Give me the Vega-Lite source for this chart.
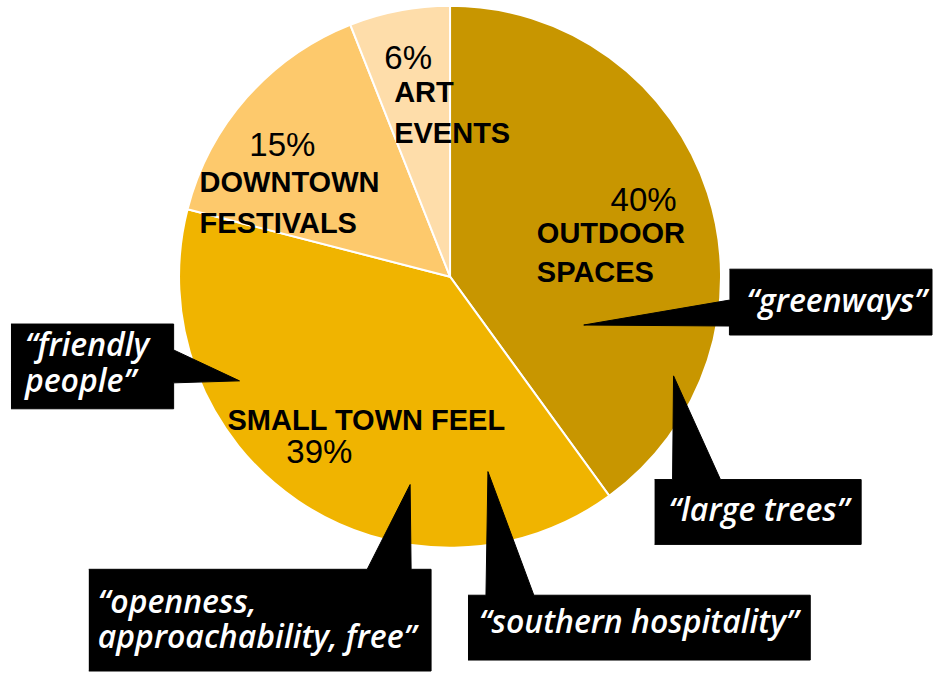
{
  "$schema": "https://vega.github.io/schema/vega-lite/v6.json",
  "width": 934,
  "height": 673,
  "autosize": {"type": "fit", "contains": "padding"},
  "padding": 0,
  "background": "white",
  "config": {"view": {"stroke": null}},
  "datasets": {
    "shares": [
      {"category": "Outdoor Spaces", "share": 40, "rank": 1},
      {"category": "Small Town Feel", "share": 39, "rank": 2},
      {"category": "Downtown Festivals", "share": 15, "rank": 3},
      {"category": "Art Events", "share": 6, "rank": 4}
    ],
    "callouts": [
      {"id": "greenways", "seq": 1, "px": 731, "py": 270},
      {"id": "greenways", "seq": 2, "px": 934, "py": 270},
      {"id": "greenways", "seq": 3, "px": 934, "py": 336},
      {"id": "greenways", "seq": 4, "px": 731, "py": 336},
      {"id": "greenways", "seq": 5, "px": 731, "py": 327},
      {"id": "greenways", "seq": 6, "px": 585, "py": 326},
      {"id": "greenways", "seq": 7, "px": 731, "py": 301},
      {"id": "trees", "seq": 1, "px": 656, "py": 481},
      {"id": "trees", "seq": 2, "px": 674, "py": 481},
      {"id": "trees", "seq": 3, "px": 675, "py": 377},
      {"id": "trees", "seq": 4, "px": 722, "py": 481},
      {"id": "trees", "seq": 5, "px": 863, "py": 481},
      {"id": "trees", "seq": 6, "px": 863, "py": 546},
      {"id": "trees", "seq": 7, "px": 656, "py": 546},
      {"id": "friendly", "seq": 1, "px": 11, "py": 325},
      {"id": "friendly", "seq": 2, "px": 174, "py": 325},
      {"id": "friendly", "seq": 3, "px": 174, "py": 351},
      {"id": "friendly", "seq": 4, "px": 240, "py": 382},
      {"id": "friendly", "seq": 5, "px": 174, "py": 384},
      {"id": "friendly", "seq": 6, "px": 174, "py": 410},
      {"id": "friendly", "seq": 7, "px": 11, "py": 410},
      {"id": "openness", "seq": 1, "px": 89, "py": 571},
      {"id": "openness", "seq": 2, "px": 368, "py": 571},
      {"id": "openness", "seq": 3, "px": 411, "py": 486},
      {"id": "openness", "seq": 4, "px": 412, "py": 571},
      {"id": "openness", "seq": 5, "px": 432, "py": 571},
      {"id": "openness", "seq": 6, "px": 432, "py": 673},
      {"id": "openness", "seq": 7, "px": 89, "py": 673},
      {"id": "southern", "seq": 1, "px": 469, "py": 597},
      {"id": "southern", "seq": 2, "px": 487, "py": 597},
      {"id": "southern", "seq": 3, "px": 489, "py": 473},
      {"id": "southern", "seq": 4, "px": 535, "py": 597},
      {"id": "southern", "seq": 5, "px": 812, "py": 597},
      {"id": "southern", "seq": 6, "px": 812, "py": 662},
      {"id": "southern", "seq": 7, "px": 469, "py": 662}
    ],
    "labels": [
      {"kind": "pct", "text": "40%", "px": 645, "py": 212},
      {"kind": "pct", "text": "15%", "px": 283, "py": 156},
      {"kind": "pct", "text": "6%", "px": 409, "py": 69},
      {"kind": "pct", "text": "39%", "px": 320, "py": 464},
      {"kind": "name", "text": "OUTDOOR", "px": 538, "py": 244},
      {"kind": "name", "text": "SPACES", "px": 538, "py": 283},
      {"kind": "name", "text": "DOWNTOWN", "px": 200, "py": 193},
      {"kind": "name", "text": "FESTIVALS", "px": 200, "py": 234},
      {"kind": "name", "text": "ART", "px": 395, "py": 102},
      {"kind": "name", "text": "EVENTS", "px": 395, "py": 143},
      {"kind": "name", "text": "SMALL TOWN FEEL", "px": 228, "py": 431},
      {"kind": "quote", "text": "“greenways”", "px": 748, "py": 313},
      {"kind": "quote", "text": "“large trees”", "px": 670, "py": 523},
      {"kind": "quote", "text": "“friendly", "px": 25, "py": 357},
      {"kind": "quote", "text": "people”", "px": 25, "py": 393},
      {"kind": "quote", "text": "“openness,", "px": 98, "py": 615},
      {"kind": "quote", "text": "approachability, free”", "px": 98, "py": 650},
      {"kind": "quote", "text": "“southern hospitality”", "px": 480, "py": 635}
    ]
  },
  "layer": [
    {
      "data": {"name": "shares"},
      "mark": {"type": "arc", "outerRadius": 271, "stroke": "white", "strokeWidth": 2},
      "encoding": {
        "theta": {"field": "share", "type": "quantitative", "stack": true},
        "order": {"field": "rank", "type": "quantitative"},
        "color": {
          "field": "category",
          "type": "nominal",
          "scale": {
            "domain": ["Outdoor Spaces", "Small Town Feel", "Downtown Festivals", "Art Events"],
            "range": ["#C89600", "#F0B400", "#FDC96C", "#FEDDAA"]
          },
          "legend": null
        },
        "x": {"datum": 451, "type": "quantitative", "scale": {"domain": [0, 934], "nice": false, "zero": false}, "axis": null},
        "y": {"datum": 277.5, "type": "quantitative", "scale": {"domain": [0, 673], "reverse": true, "nice": false, "zero": false}, "axis": null}
      }
    },
    {
      "data": {"name": "labels"},
      "transform": [{"filter": "datum.kind === 'pct'"}],
      "mark": {"type": "text", "font": "Liberation Sans", "fontSize": 33, "align": "center", "baseline": "alphabetic", "color": "black"},
      "encoding": {
        "x": {"field": "px", "type": "quantitative", "axis": null},
        "y": {"field": "py", "type": "quantitative", "axis": null},
        "text": {"field": "text"}
      }
    },
    {
      "data": {"name": "labels"},
      "transform": [{"filter": "datum.kind === 'name'"}],
      "mark": {"type": "text", "font": "Liberation Sans", "fontWeight": "bold", "fontSize": 29, "align": "left", "baseline": "alphabetic", "color": "black"},
      "encoding": {
        "x": {"field": "px", "type": "quantitative", "axis": null},
        "y": {"field": "py", "type": "quantitative", "axis": null},
        "text": {"field": "text"}
      }
    },
    {
      "data": {"name": "callouts"},
      "mark": {"type": "line", "fill": "black", "stroke": "black", "strokeWidth": 1},
      "encoding": {
        "x": {"field": "px", "type": "quantitative", "axis": null},
        "y": {"field": "py", "type": "quantitative", "axis": null},
        "detail": {"field": "id"},
        "order": {"field": "seq", "type": "quantitative"}
      }
    },
    {
      "data": {"name": "labels"},
      "transform": [{"filter": "datum.kind === 'quote'"}],
      "mark": {"type": "text", "font": "Open Sans", "fontStyle": "italic", "fontWeight": 600, "fontSize": 32, "align": "left", "baseline": "alphabetic", "color": "white"},
      "encoding": {
        "x": {"field": "px", "type": "quantitative", "axis": null},
        "y": {"field": "py", "type": "quantitative", "axis": null},
        "text": {"field": "text"}
      }
    }
  ]
}
